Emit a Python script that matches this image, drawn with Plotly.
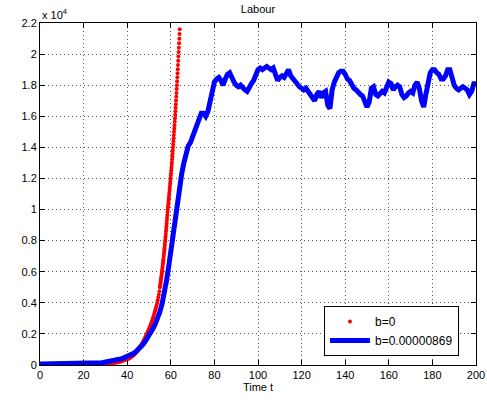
import numpy as np
import plotly.graph_objects as go

# ---- data (values in units of 10^4) ----
# b = 0 : red dots, sampled on three time grids
red_t1 = list(range(0, 40))
red_v1 = [0.000, 0.000, 0.000, 0.000, 0.000, 0.001, 0.001, 0.001, 0.001, 0.001,
          0.001, 0.001, 0.001, 0.001, 0.001, 0.001, 0.001, 0.002, 0.002, 0.002,
          0.002, 0.002, 0.003, 0.003, 0.003, 0.004, 0.004, 0.005, 0.005, 0.006,
          0.007, 0.008, 0.010, 0.011, 0.013, 0.015, 0.018, 0.021, 0.025, 0.031]
red_t2 = [round(40 + 0.25 * i, 2) for i in range(60)]
red_v2 = [0.037, 0.039, 0.041, 0.043, 0.045, 0.047, 0.049, 0.051,
          0.054, 0.057, 0.059, 0.062, 0.065, 0.068, 0.072, 0.076,
          0.080, 0.084, 0.089, 0.094, 0.099, 0.104, 0.109, 0.114,
          0.119, 0.124, 0.130, 0.135, 0.141, 0.148, 0.155, 0.162,
          0.169, 0.176, 0.184, 0.192, 0.200, 0.207, 0.215, 0.223,
          0.231, 0.240, 0.249, 0.258, 0.268, 0.278, 0.288, 0.299,
          0.310, 0.322, 0.334, 0.346, 0.359, 0.372, 0.386, 0.400,
          0.417, 0.434, 0.452, 0.475]
red_t3 = [round(55 + 0.1 * i, 1) for i in range(92)]
red_v3 = [0.500, 0.510, 0.520, 0.530, 0.540, 0.551, 0.561, 0.572, 0.584, 0.595,
          0.607, 0.618, 0.631, 0.643, 0.655, 0.668, 0.681, 0.695, 0.708, 0.722,
          0.736, 0.751, 0.765, 0.780, 0.796, 0.811, 0.827, 0.843, 0.860, 0.876,
          0.893, 0.911, 0.929, 0.947, 0.965, 0.984,
          1.000, 1.014, 1.028, 1.043, 1.058, 1.073, 1.088, 1.103, 1.119, 1.135,
          1.151, 1.167, 1.183, 1.200, 1.217, 1.234, 1.251, 1.269, 1.287, 1.305,
          1.323, 1.342, 1.361, 1.380, 1.399, 1.419, 1.439, 1.459, 1.480, 1.500,
          1.522, 1.543, 1.565, 1.587, 1.609, 1.632, 1.655, 1.678, 1.702, 1.726,
          1.750, 1.775, 1.800, 1.825, 1.851, 1.877, 1.903, 1.930, 1.957, 1.985,
          2.013, 2.041, 2.070, 2.099, 2.129, 2.159]
red_t = red_t1 + red_t2 + red_t3
red_v = red_v1 + red_v2 + red_v3

# b = 0.00000869 : blue line, t = 0..200
blue_t = list(range(0, 201))
blue_v = [0.007] * 11 + [0.008] * 10 + [
    0.008, 0.009, 0.009, 0.010, 0.011, 0.012, 0.013, 0.014, 0.016, 0.018,
    0.020, 0.022, 0.025, 0.028, 0.031, 0.035, 0.039, 0.043, 0.048, 0.053,
    0.059, 0.066, 0.075, 0.086, 0.098, 0.112, 0.128, 0.146, 0.166, 0.188,
    0.212, 0.238, 0.268, 0.302, 0.342, 0.395, 0.46, 0.54, 0.63, 0.74,
    0.83, 0.93, 1.04, 1.14, 1.23, 1.30, 1.37, 1.41, 1.43, 1.47,
    1.52, 1.55, 1.59, 1.62, 1.62, 1.60, 1.63, 1.70, 1.77, 1.82,
    1.84, 1.85, 1.83, 1.80, 1.84, 1.87, 1.88, 1.84, 1.82, 1.80,
    1.79, 1.80, 1.78, 1.77, 1.76, 1.79, 1.81, 1.83, 1.87, 1.90,
    1.91, 1.90, 1.91, 1.92, 1.91, 1.90, 1.91, 1.87, 1.83, 1.85,
    1.86, 1.85, 1.88, 1.90, 1.86, 1.84, 1.83, 1.80, 1.79, 1.78,
    1.77, 1.78, 1.76, 1.73, 1.71, 1.70, 1.74, 1.76, 1.72, 1.75,
    1.76, 1.67, 1.65, 1.77, 1.82, 1.86, 1.88, 1.89, 1.89, 1.87,
    1.84, 1.83, 1.80, 1.78, 1.77, 1.75, 1.74, 1.73, 1.70, 1.66,
    1.69, 1.78, 1.79, 1.74, 1.73, 1.75, 1.76, 1.75, 1.79, 1.82,
    1.81, 1.77, 1.79, 1.80, 1.79, 1.74, 1.72, 1.73, 1.75, 1.76,
    1.75, 1.80, 1.82, 1.78, 1.70, 1.66, 1.74, 1.82, 1.88, 1.90,
    1.90, 1.88, 1.87, 1.84, 1.84, 1.86, 1.90, 1.90, 1.84, 1.80,
    1.78, 1.77, 1.78, 1.79, 1.78, 1.77, 1.74, 1.76, 1.81, 1.81]

x_ticks = [0, 20, 40, 60, 80, 100, 120, 140, 160, 180, 200]
y_ticks = [0, 0.2, 0.4, 0.6, 0.8, 1.0, 1.2, 1.4, 1.6, 1.8, 2.0, 2.2]
y_labels = ["0", "0.2", "0.4", "0.6", "0.8", "1", "1.2", "1.4", "1.6", "1.8", "2", "2.2"]

FONT = "Liberation Sans, Arial, sans-serif"

fig = go.Figure()
fig.add_trace(go.Scatter(
    x=red_t, y=red_v, mode="markers", name="b=0",
    marker=dict(color="#ff0000", size=4, symbol="circle", line=dict(width=0)),
))
fig.add_trace(go.Scatter(
    x=blue_t, y=blue_v, mode="lines", name="b=0.00000869",
    line=dict(color="#0000ff", width=5),
))

axis_common = dict(
    showline=True, linecolor="black", linewidth=1, mirror="allticks",
    ticks="inside", ticklen=5, tickcolor="black", tickwidth=1,
    showgrid=True, gridcolor="#555555", gridwidth=1, griddash="1px,3px",
    zeroline=False, automargin=False,
    tickfont=dict(family=FONT, size=11, color="black"),
)
fig.update_xaxes(range=[0, 200], tickvals=x_ticks, **axis_common,
                 title=dict(text="Time t", font=dict(family=FONT, size=11, color="black"), standoff=2))
fig.update_yaxes(range=[0, 2.2], tickvals=y_ticks, ticktext=y_labels, **axis_common)

fig.update_layout(
    width=487, height=402,
    margin=dict(l=40, r=11, t=23, b=37),
    paper_bgcolor="white", plot_bgcolor="white",
    font=dict(family=FONT, size=11, color="black"),
    title=dict(text="Labour", x=0.5, xref="paper", y=1 - 9 / 402, yanchor="middle",
               font=dict(family=FONT, size=11, color="black")),
    showlegend=True,
    legend=dict(x=0.961, y=0.026, xanchor="right", yanchor="bottom",
                bgcolor="white", bordercolor="black", borderwidth=1,
                font=dict(family=FONT, size=12, color="black"),
                tracegroupgap=0, itemwidth=40),
    annotations=[dict(text="x 10<sup>4</sup>", xref="paper", yref="paper",
                      x=0, y=1, xanchor="left", yanchor="bottom", showarrow=False,
                      font=dict(family=FONT, size=11, color="black"), yshift=0)],
)

fig.write_html("out.html", config={"displayModeBar": False},
               post_script="document.body.style.margin='0';")
